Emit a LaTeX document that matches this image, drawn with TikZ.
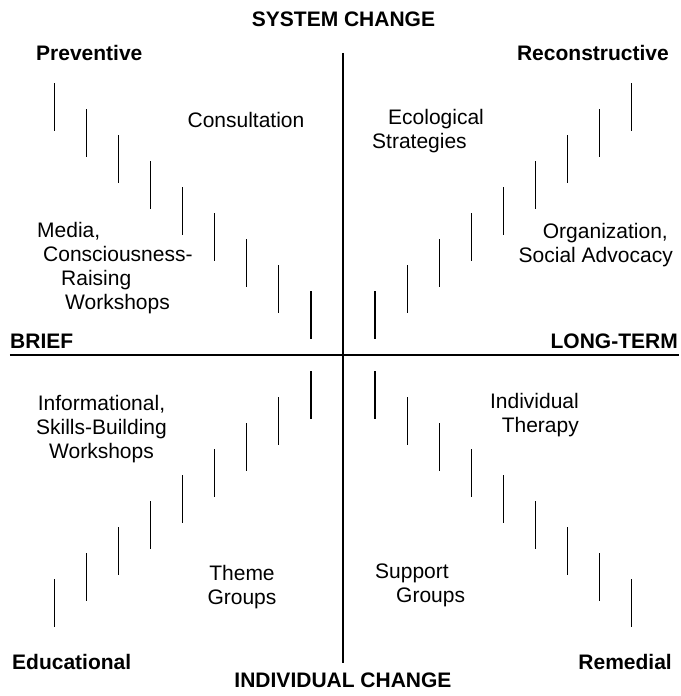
\documentclass[tikz,border=0pt]{standalone}
\usepackage{fontspec}
\setmainfont{Liberation Sans}
\begin{document}
\begin{tikzpicture}[x=1pt,y=1pt,
    every node/.style={inner sep=0pt,font=\fontsize{21}{24}\selectfont},
    heading/.style={font=\fontsize{21}{24}\selectfont\bfseries},
    axis/.style={line width=1.6pt},
    bar/.style={line width=1.2pt}]

\def\gapX{32}
\def\gapY{16}
\def\stepX{32.1}
\def\stepY{26}
\def\barLen{48}

\useasboundingbox (-343,-341) rectangle (337,355);

\coordinate (top) at (0,302);
\coordinate (bottom) at (0,-308);
\coordinate (left) at (-333,0);
\coordinate (right) at (336,0);

\draw[axis] (top) -- (bottom);
\draw[axis] (left) -- (right);

\foreach \sx/\sy in {-1/1,1/1,-1/-1,1/-1}
    \foreach \i in {0,...,8}
        \draw[bar] ({\sx*(\gapX+\stepX*\i)},{\sy*(\gapY+\stepY*\i)}) -- ++(0,{\sy*\barLen});

\draw (0.5,335.5) node[heading](system) {SYSTEM CHANGE};
\draw (0,-325) node[heading](individual) {INDIVIDUAL CHANGE};
\draw (-333,14) node[heading,anchor=west](brief) {BRIEF};
\draw (335,14) node[heading,anchor=east](longterm) {LONG-TERM};

\draw (-307,302) node[heading,anchor=west](preventive) {Preventive};
\draw (326,302) node[heading,anchor=east](reconstructive) {Reconstructive};
\draw (-331,-307) node[heading,anchor=west](educational) {Educational};
\draw (329,-307) node[heading,anchor=east](remedial) {Remedial};

\draw (-97,235) node(consultation) {Consultation};
\draw (29,224) node[anchor=west,align=left](ecological)
    {\hspace*{16pt}Ecological\\Strategies};
\draw (-306,87) node[anchor=west,align=left](media)
    {Media,\\\hspace*{6pt}Consciousness-\\\hspace*{24pt}Raising\\\hspace*{28pt}Workshops};
\draw (330,110) node[anchor=east,align=right](organization)
    {Organization,\hspace*{5pt}\\Social Advocacy};

\draw (-241.5,-74) node[align=center](informational)
    {Informational,\\Skills-Building\\Workshops};
\draw (-101,-232) node[align=center](theme) {Theme\\Groups};
\draw (236,-60) node[anchor=east,align=right](therapy) {Individual\\Therapy};
\draw (32,-230.5) node[anchor=west,align=left](support)
    {Support\\\hspace*{21pt}Groups};

\end{tikzpicture}
\end{document}
